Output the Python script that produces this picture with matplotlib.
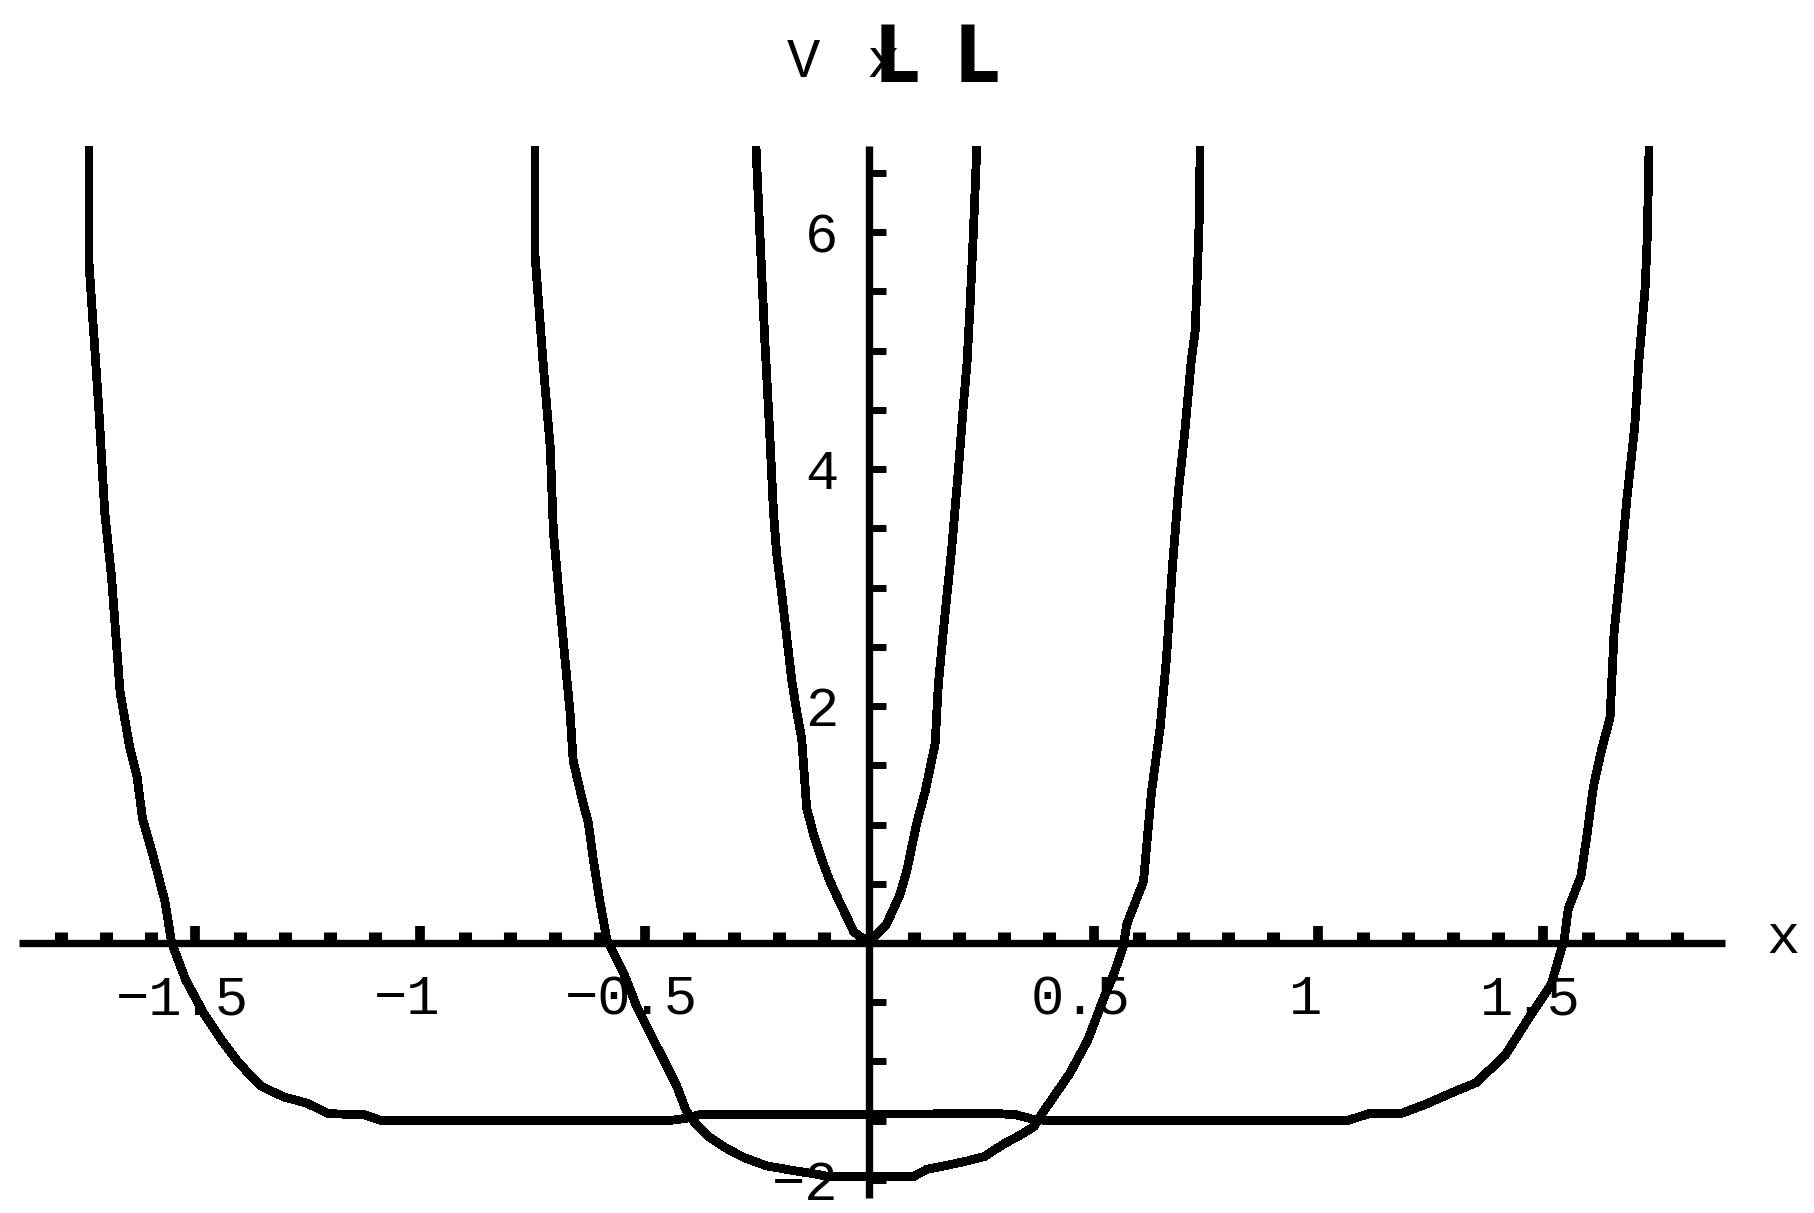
import matplotlib
matplotlib.use('Agg')
import matplotlib.pyplot as plt
import matplotlib.transforms as mtransforms
import numpy as np

# curve values
narrow_x = [-0.252, -0.243, -0.232, -0.222, -0.213, -0.206, -0.194, -0.183, -0.172, -0.161,
            -0.150, -0.139, -0.124, -0.105, -0.087, -0.065, -0.046, -0.035, -0.020, 0.0,
            0.012, 0.039, 0.069, 0.084, 0.106, 0.125, 0.147, 0.154, 0.165, 0.184,
            0.199, 0.210, 0.218, 0.225, 0.232, 0.240]
narrow_y = [6.73, 5.97, 5.07, 4.36, 3.64, 3.29, 2.93, 2.57, 2.21, 1.95,
            1.72, 1.14, 0.92, 0.70, 0.52, 0.34, 0.19, 0.10, 0.05, 0.03,
            0.05, 0.16, 0.41, 0.61, 1.01, 1.28, 1.68, 2.17, 2.62, 3.33,
            4.00, 4.54, 4.89, 5.39, 5.97, 6.73]

middle_x = [-0.744, -0.744, -0.725, -0.710, -0.703, -0.688, -0.677, -0.666, -0.659, -0.640,
            -0.625, -0.614, -0.599, -0.584, -0.547, -0.518, -0.488, -0.458, -0.428, -0.408,
            -0.388, -0.359, -0.319, -0.279, -0.229, -0.169, -0.120, -0.090, 0.099, 0.129,
            0.168, 0.218, 0.258, 0.298, 0.337, 0.367, 0.387, 0.407, 0.447, 0.487,
            0.516, 0.546, 0.566, 0.574, 0.611, 0.629, 0.648, 0.662, 0.675, 0.689,
            0.703, 0.717, 0.726, 0.731, 0.736, 0.737]
middle_y = [6.73, 5.81, 4.85, 4.18, 3.47, 2.84, 2.39, 1.95, 1.54, 1.23,
            1.01, 0.70, 0.34, 0.03, -0.25, -0.53, -0.76, -0.98, -1.21, -1.41,
            -1.52, -1.63, -1.73, -1.81, -1.88, -1.92, -1.95, -1.97, -1.97, -1.91,
            -1.88, -1.84, -1.80, -1.70, -1.62, -1.55, -1.43, -1.32, -1.10, -0.82,
            -0.53, -0.25, -0.03, 0.16, 0.52, 1.28, 1.81, 2.39, 3.15, 3.82,
            4.31, 4.90, 5.16, 5.65, 6.19, 6.73]

wide_x = [-1.737, -1.737, -1.716, -1.702, -1.687, -1.668, -1.646, -1.630, -1.618, -1.594,
          -1.568, -1.553, -1.522, -1.482, -1.442, -1.402, -1.353, -1.303, -1.253, -1.204,
          -1.124, -1.085, -0.448, -0.408, -0.378, 0.288, 0.328, 0.367, 0.407, 1.063,
          1.114, 1.184, 1.240, 1.300, 1.351, 1.416, 1.468, 1.519, 1.548, 1.557, 1.585,
          1.599, 1.613, 1.631, 1.650, 1.659, 1.673, 1.687, 1.705, 1.714, 1.728,
          1.733, 1.737]
wide_y = [6.73, 5.73, 4.55, 3.63, 3.09, 2.12, 1.64, 1.40, 1.05, 0.73,
          0.35, 0.0, -0.31, -0.59, -0.82, -1.02, -1.21, -1.30, -1.35, -1.44,
          -1.45, -1.50, -1.50, -1.48, -1.45, -1.44, -1.45, -1.49, -1.50, -1.50,
          -1.44, -1.44, -1.36, -1.26, -1.18, -0.95, -0.64, -0.35, 0.03, 0.29, 0.56,
          0.92, 1.32, 1.63, 1.90, 2.62, 3.15, 3.73, 4.36, 4.90, 5.52,
          5.97, 6.73]

x_major = [-1.5, -1.0, -0.5, 0.5, 1.0, 1.5]
x_labels = ['\u22121.5', '\u22121', '\u22120.5', '0.5', '1', '1.5']
y_major = [-2, 2, 4, 6]
y_labels = ['\u22122', '2', '4', '6']

W, H = 1815, 1213
fig = plt.figure(figsize=(W / 100, H / 100), dpi=100)
ax = fig.add_axes([19 / W, 1 - 1198 / H, (1725 - 19) / W, (1198 - 146) / H])
ax.set_xlim(-1.893, 1.906)
ax.set_ylim(-2.152, 6.726)

lw = 5.6
for xs, ys in [(narrow_x, narrow_y), (middle_x, middle_y), (wide_x, wide_y)]:
    ax.plot(xs, ys, color='black', lw=lw, solid_joinstyle='miter', antialiased=False)

# mathematica style axes through the origin
for side in ['top', 'right']:
    ax.spines[side].set_visible(False)
for side in ['left', 'bottom']:
    ax.spines[side].set_position(('data', 0))
    ax.spines[side].set_linewidth(5.3)
    ax.spines[side].set_capstyle('butt')

ax.set_xticks(x_major)
ax.set_xticklabels(x_labels)
x_minor = [v for v in np.round(np.arange(-1.8, 1.81, 0.1), 1) if v not in x_major and v != 0]
ax.set_xticks(x_minor, minor=True)
ax.set_yticks(y_major)
ax.set_yticklabels(y_labels)
y_minor = [v for v in np.arange(-2, 6.6, 0.5) if v not in y_major and v != 0]
ax.set_yticks(y_minor, minor=True)

ax.tick_params(axis='x', which='major', direction='in', length=12, width=7, pad=22.5)
ax.tick_params(axis='x', which='minor', direction='in', length=8, width=9.4)
ax.tick_params(axis='y', which='both', direction='in', length=12, width=5, pad=22)

tick_font = dict(family='Liberation Mono', size=40)
shift = mtransforms.ScaledTranslation(-0.13, 0, fig.dpi_scale_trans)
for lab in ax.get_xticklabels():
    lab.set_fontproperties(tick_font)
    lab.set_transform(lab.get_transform() + shift)
for lab in ax.get_yticklabels():
    lab.set_fontproperties(tick_font)

# axis labels
fig.text(803 / W, 1 - 77 / H, 'V', ha='center', va='baseline', **tick_font)
fig.text(883 / W, 1 - 77 / H, 'x', ha='center', va='baseline', **tick_font)
for lx in [875, 955]:
    fig.text(lx / W, 1 - 82 / H, 'L', ha='left', va='baseline', family='DejaVu Sans',
             weight='bold', stretch='condensed', size=56)
fig.text(1783 / W, 1 - 953 / H, 'x', ha='center', va='baseline', **tick_font)

fig.savefig('out.png', dpi=100)
